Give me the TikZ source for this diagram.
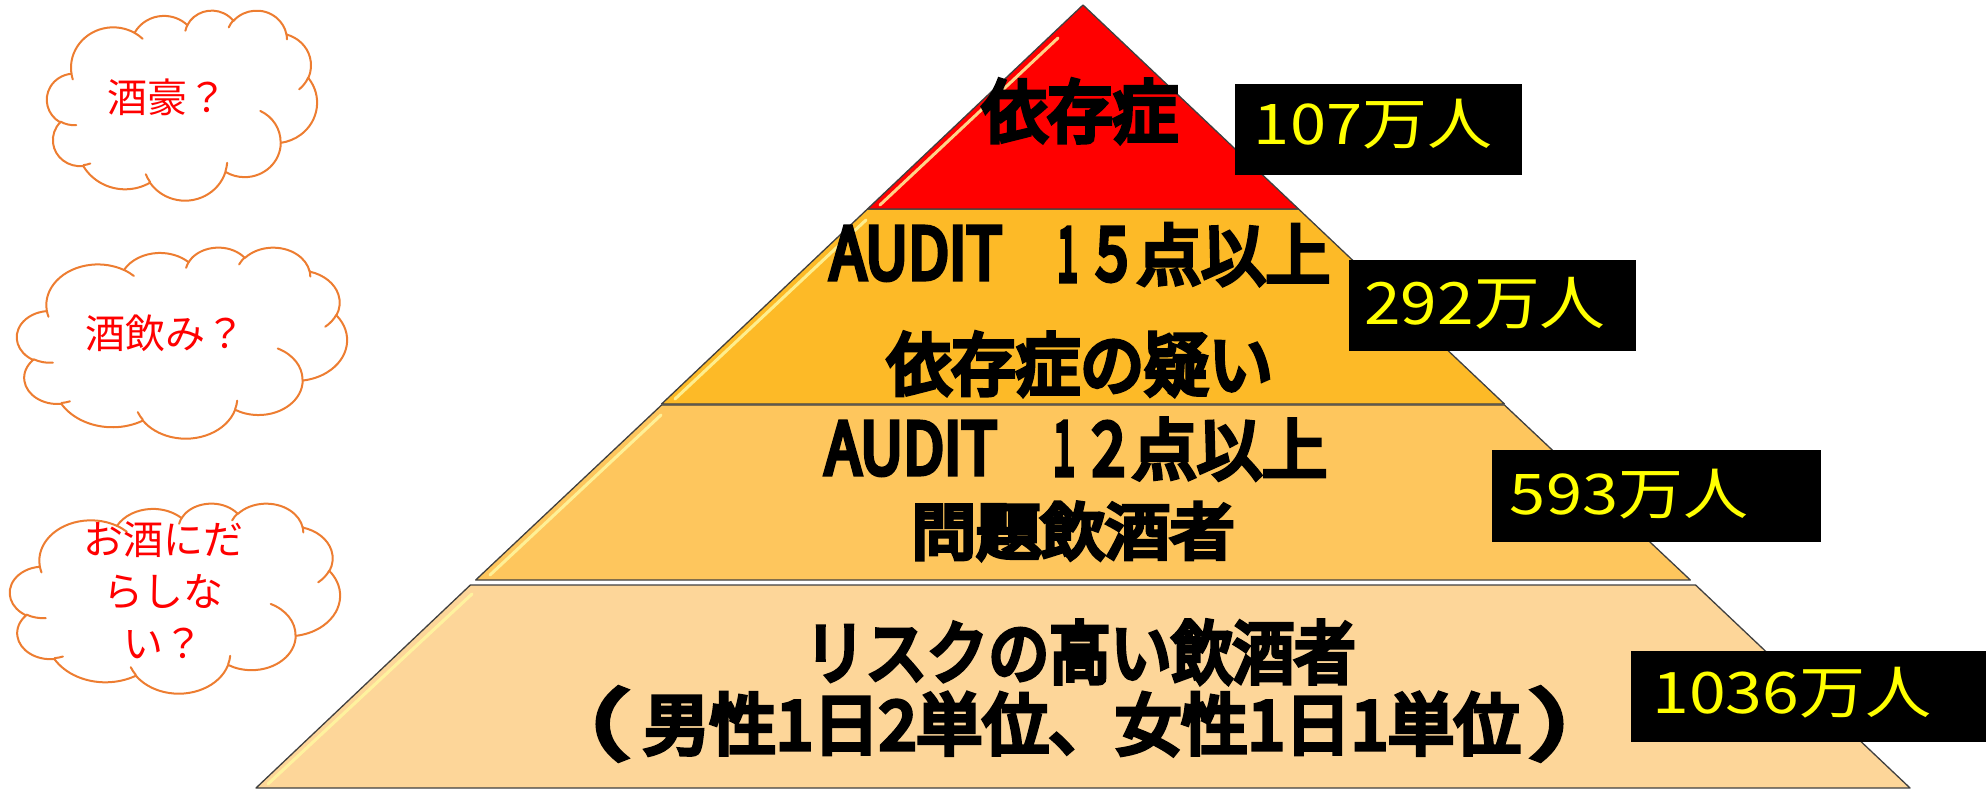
\documentclass[tikz,border=0pt]{standalone}
\usepackage{fontspec}
\usepackage{graphicx}
\newfontfamily\jp{Noto Sans CJK JP}[AutoFakeBold=2.5]
\newfontfamily\jpheavy{Noto Sans CJK JP}[BoldFeatures={FakeBold=5}, AutoFakeBold=7]
\definecolor{cloudorange}{HTML}{ED7D31}
\definecolor{tierA}{HTML}{FF0000}
\definecolor{tierB}{HTML}{FDBA27}
\definecolor{tierC}{HTML}{FEC65D}
\definecolor{tierD}{HTML}{FDD699}
\definecolor{numyellow}{HTML}{FFFF00}
\definecolor{bevel}{HTML}{FFF8A0}
\tikzset{
  tier/.style={draw=black!75, line width=1.3pt, line join=round},
  hl/.style={draw=bevel, draw opacity=0.85, line width=3pt, line cap=round},
  tiertext/.style={inner sep=0pt, font=\jpheavy\bfseries, text=black},
  numbox/.style={fill=black, draw=none, inner sep=0pt, anchor=north west},
  numtext/.style={inner sep=0pt, text=numyellow, font=\jp},
  cloudtext/.style={text=red, font=\jp\fontsize{40}{52}\selectfont, align=center, inner sep=0pt},
}
\newcommand\fitto[3]{\resizebox*{#1pt}{#2pt}{#3}}
% a glyph box trimmed to its ink (side bearings removed)
\newcommand\tightchar[1]{\hbox{\kern-\XeTeXglyphbounds1 \XeTeXcharglyph`#1 #1\kern-\XeTeXglyphbounds3 \XeTeXcharglyph`#1 }}
% PowerPoint-like cloud arcs (angles are visual angles, converted to parametric)
\newcommand\cloudarc[4]{%
  \pgfmathsetmacro\cta{atan2((#1)*sin(#3),(#2)*cos(#3))}%
  \pgfmathsetmacro\ctb{atan2((#1)*sin((#3)+(#4)),(#2)*cos((#3)+(#4)))}%
  \pgfmathsetmacro\ctb{\cta+mod(\ctb-\cta+540,360)-180}%
  \pgfpatharcaxes{\cta}{\ctb}{\pgfpointxy{#1}{0}}{\pgfpointxy{0}{#2}}%
}
\newcommand\cloudmove[2]{\pgfpathmoveto{\pgfpointxy{#1}{#2}}}
\newcommand\drawcloud[4]{%
  \pgfmathsetmacro\cxs{#3/43.2}%
  \pgfmathsetmacro\cys{#4/43.2}%
  \begin{scope}[shift={(#1,#2)}, x={(\cxs pt,0pt)}, y={(0pt,-\cys pt)}]
    \pgfsetlinewidth{2pt}%
    \pgfsetstrokecolor{cloudorange}%
    \pgfsetfillcolor{white}%
    \pgfsetroundjoin
    \cloudmove{3.900}{14.370}%
    \cloudarc{6.753}{9.190}{-190.487}{123.781}%
    \cloudarc{5.333}{7.267}{-144.102}{89.945}%
    \cloudarc{4.365}{5.945}{-145.808}{99.723}%
    \cloudarc{4.857}{6.595}{-130.986}{117.242}%
    \cloudarc{5.333}{7.273}{-78.709}{109.027}%
    \cloudarc{6.775}{9.220}{-46.267}{130.269}%
    \cloudarc{5.785}{7.867}{0.625}{114.033}%
    \cloudarc{6.752}{9.215}{22.452}{115.173}%
    \cloudarc{7.720}{10.543}{66.243}{75.711}%
    \cloudarc{4.360}{5.918}{-274.942}{146.736}%
    \cloudarc{4.345}{5.945}{-246.829}{152.519}%
    \pgfpathclose
    \pgfusepath{fill,stroke}%
    \pgfsetroundcap
    \cloudmove{4.693}{26.177}\cloudarc{4.345}{5.945}{86.742}{26.430}%
    \cloudmove{6.928}{34.899}\cloudarc{4.360}{5.918}{73.610}{11.447}%
    \cloudmove{16.478}{39.090}\cloudarc{6.752}{9.215}{137.624}{14.081}%
    \cloudmove{28.827}{34.751}\cloudarc{6.752}{9.215}{6.453}{15.998}%
    \cloudmove{34.129}{22.954}\cloudarc{5.785}{7.867}{-70.292}{70.917}%
    \cloudmove{41.798}{15.354}\cloudarc{5.333}{7.273}{30.318}{27.752}%
    \cloudmove{38.324}{5.426}\cloudarc{4.857}{6.595}{-13.744}{14.859}%
    \cloudmove{29.078}{3.952}\cloudarc{4.857}{6.595}{-149.181}{18.195}%
    \cloudmove{22.141}{4.720}\cloudarc{4.365}{5.945}{-163.494}{17.686}%
    \cloudmove{14.000}{5.192}\cloudarc{6.753}{9.190}{-66.707}{12.319}%
    \cloudmove{4.127}{15.789}\cloudarc{6.753}{9.190}{157.654}{11.858}%
    \pgfusepath{stroke}%
  \end{scope}%
}
\begin{document}
\begin{tikzpicture}[x=1pt,y=-1pt]
\useasboundingbox (0,0) rectangle (1986,791);

% ---- pyramid tiers ----
\filldraw[tier, fill=tierD] (470.4,585) -- (1695.6,585) -- (1910,788) -- (256,788) -- cycle;
\filldraw[tier, fill=tierC] (661.6,405) -- (1504.4,405) -- (1690.3,580) -- (475.7,580) -- cycle;
\filldraw[tier, fill=tierB] (867.5,209) -- (1298.5,209) -- (1504.4,404) -- (661.6,404) -- cycle;
\filldraw[tier, fill=tierA] (1083,5) -- (1298.5,209) -- (867.5,209) -- cycle;

% bevel highlights
\draw[hl] (1058,38) -- (880,205);
\draw[hl] (866,220) -- (675,399);
\draw[hl] (661,415) -- (490,575);
\draw[hl] (472,594) -- (268,784);

% ---- pyramid texts ----
\node[tiertext] (t1) at (1080,111) {\fitto{196}{63}{依存症}};
% AUDIT 15
\node[tiertext] (t2audit) at (916,253.5) {\fitto{172}{53}{AUDIT}};
\node[tiertext] (t2one) at (1067.5,254.5) {\fitto{21}{53}{1}};
\node[tiertext] (t2five) at (1112,254.5) {\fitto{32}{53}{5}};
\node[tiertext] (t2cjk) at (1233.5,254.5) {\fitto{193}{61}{点以上}};
\node[tiertext] (t2b) at (1080,364) {\fitto{386}{63}{依存症の疑い}};
% AUDIT 12
\node[tiertext] (t3audit) at (911,448.5) {\fitto{172}{53}{AUDIT}};
\node[tiertext] (t3one) at (1064,448.5) {\fitto{22}{53}{1}};
\node[tiertext] (t3two) at (1108.5,448.5) {\fitto{33}{53}{2}};
\node[tiertext] (t3cjk) at (1229.5,449) {\fitto{195}{61}{点以上}};
\node[tiertext] (t3b) at (1073,531) {\fitto{323}{57}{問題飲酒者}};
\node[tiertext] (t4a) at (1080,652) {\fitto{551}{63}{リスクの高い飲酒者}};
\node[tiertext] (t4open) at (612,724) {\fitto{26}{72}{\tightchar{（}}};
\node[tiertext] (t4b) at (1082,724) {\fitto{877}{62}{男性1日2単位、女性1日1単位}};
\node[tiertext] (t4close) at (1547,724) {\fitto{26}{72}{\tightchar{）}}};

% ---- number boxes ----
\node[numbox, minimum width=287pt, minimum height=91pt] (b1) at (1235,84) {};
\node[numbox, minimum width=287pt, minimum height=91pt] (b2) at (1349,260) {};
\node[numbox, minimum width=329pt, minimum height=92pt] (b3) at (1492,450) {};
\node[numbox, minimum width=355pt, minimum height=91pt] (b4) at (1631,651) {};
\node[numtext] (n1) at (1373,124) {\fitto{238}{50}{107万人}};
\node[numtext] (n2) at (1485,303) {\fitto{241}{52}{292万人}};
\node[numtext] (n3) at (1629,494) {\fitto{238}{50}{593万人}};
\node[numtext] (n4) at (1792,693) {\fitto{279}{51}{1036万人}};

% ---- clouds ----
\drawcloud{47}{10}{270}{190}
\drawcloud{17}{247}{330}{191}
\drawcloud{10}{503}{330}{190}
\node[cloudtext] (c1) at (167,97) {酒豪？};
\node[cloudtext] (c2) at (165,333) {酒飲み？};
\node[cloudtext] (c3) at (163,590) {お酒にだ\\らしな\\い？};
\end{tikzpicture}
\end{document}
